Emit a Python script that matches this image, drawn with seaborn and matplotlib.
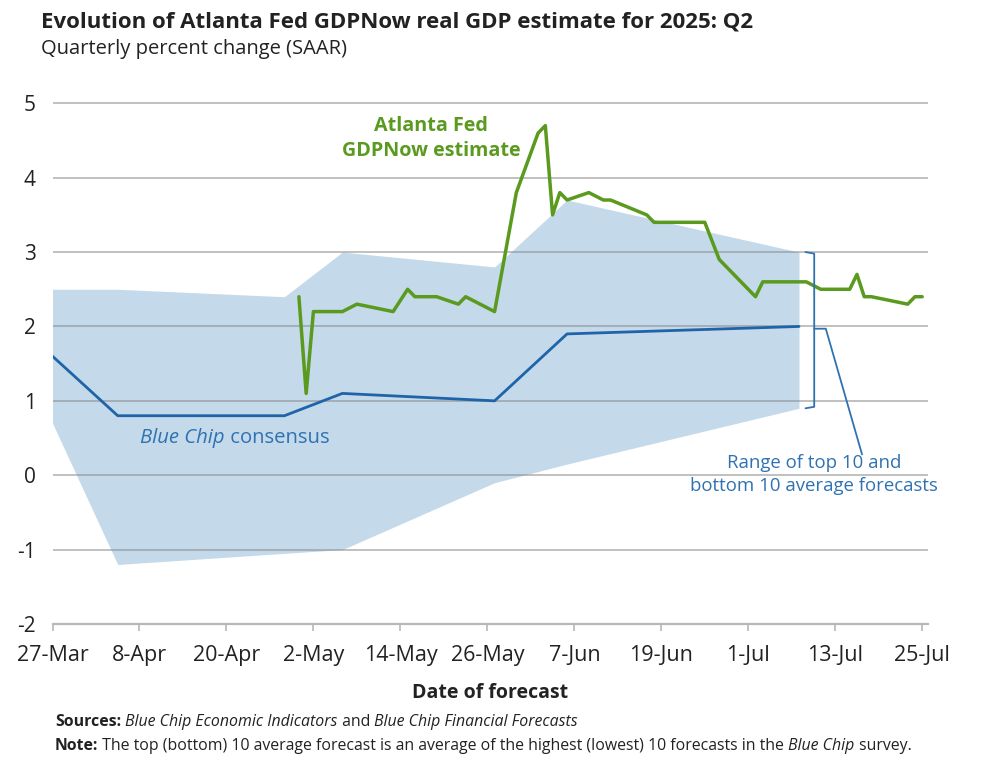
import numpy as np
import pandas as pd
import matplotlib
matplotlib.use("Agg")
import matplotlib.pyplot as plt
import matplotlib.dates as mdates
import seaborn as sns

# ── Data ──────────────────────────────────────────────────────────────────────
gdpnow_dates = [
    "2025-04-30", "2025-05-01", "2025-05-02", "2025-05-06", "2025-05-08",
    "2025-05-13", "2025-05-15", "2025-05-16", "2025-05-19", "2025-05-22",
    "2025-05-23", "2025-05-27", "2025-05-30", "2025-06-02", "2025-06-03",
    "2025-06-04", "2025-06-05", "2025-06-06", "2025-06-09", "2025-06-11",
    "2025-06-12", "2025-06-17", "2025-06-18", "2025-06-25", "2025-06-27",
    "2025-07-02", "2025-07-03", "2025-07-09", "2025-07-11", "2025-07-15",
    "2025-07-16", "2025-07-17", "2025-07-18", "2025-07-23", "2025-07-24",
    "2025-07-25",
]
gdpnow_values = [
    2.4, 1.1, 2.2, 2.2, 2.3,
    2.2, 2.5, 2.4, 2.4, 2.3,
    2.4, 2.2, 3.8, 4.6, 4.7,
    3.5, 3.8, 3.7, 3.8, 3.7,
    3.7, 3.5, 3.4, 3.4, 2.9,
    2.4, 2.6, 2.6, 2.5, 2.5,
    2.7, 2.4, 2.4, 2.3, 2.4,
    2.4,
]

bluechip_dates = ["2025-03-27", "2025-04-05", "2025-04-28", "2025-05-06",
                  "2025-05-27", "2025-06-06", "2025-07-08"]
bluechip_consensus = [1.6, 0.8, 0.8, 1.1, 1.0, 1.9, 2.0]
bluechip_top10 = [2.5, 2.5, 2.4, 3.0, 2.8, 3.7, 3.0]
bluechip_bottom10 = [0.7, -1.2, -1.05, -1.0, -0.1, 0.15, 0.9]

tick_dates = ["2025-03-27", "2025-04-08", "2025-04-20", "2025-05-02",
              "2025-05-14", "2025-05-26", "2025-06-07", "2025-06-19",
              "2025-07-01", "2025-07-13", "2025-07-25"]
tick_labels = ["27-Mar", "8-Apr", "20-Apr", "2-May", "14-May", "26-May",
               "7-Jun", "19-Jun", "1-Jul", "13-Jul", "25-Jul"]
y_ticks = [-2, -1, 0, 1, 2, 3, 4, 5]

df_now = pd.DataFrame({"date": pd.to_datetime(gdpnow_dates), "value": gdpnow_values})
df_bc = pd.DataFrame({
    "date": pd.to_datetime(bluechip_dates),
    "consensus": bluechip_consensus,
    "top10": bluechip_top10,
    "bottom10": bluechip_bottom10,
})

# ── Style ─────────────────────────────────────────────────────────────────────
sns.set_theme(style="white")
plt.rcParams["font.family"] = ["Open Sans", "DejaVu Sans"]
plt.rcParams["axes.unicode_minus"] = False

GREEN = "#5a9a1e"
BLUE = "#1f64a8"
BLUE_TXT = "#2f72b2"
BAND = "#c4d9e9"
TXT = "#222222"

W, H = 992, 778
fig = plt.figure(figsize=(W / 100, H / 100), dpi=100)
ax = fig.add_axes([52.5 / W, 1 - 624 / H, (928 - 52.5) / W, (624 - 99.6) / H])

# band + lines
ax.fill_between(df_bc["date"], df_bc["bottom10"], df_bc["top10"],
                color=BAND, linewidth=0, zorder=1)
sns.lineplot(data=df_bc, x="date", y="consensus", ax=ax, color=BLUE,
             linewidth=2.0, zorder=3)
sns.lineplot(data=df_now, x="date", y="value", ax=ax, color=GREEN,
             linewidth=2.5, zorder=4)

x0 = pd.Timestamp("2025-03-27")
ax.set_xlim(x0, x0 + pd.Timedelta(days=120.8))
ax.set_ylim(-2, 5.05)

ax.set_axisbelow("line")
ax.yaxis.grid(True, color="#8c8c8c", alpha=0.55, linewidth=1.4)
ax.xaxis.grid(False)
for s in ["top", "right", "left"]:
    ax.spines[s].set_visible(False)
ax.spines["bottom"].set_color("#b8b8b8")
ax.spines["bottom"].set_linewidth(1.6)

ax.set_yticks(y_ticks)
ax.set_yticklabels([str(v) for v in y_ticks])
ax.set_xticks(pd.to_datetime(tick_dates))
ax.set_xticklabels(tick_labels)
ax.tick_params(axis="y", length=0, pad=12, labelsize=15, labelcolor=TXT)
ax.tick_params(axis="x", length=5, width=1.2, color="#b8b8b8", pad=10,
               labelsize=15.5, labelcolor=TXT, bottom=True)
ax.set_xlabel("Date of forecast", fontsize=14, fontweight="bold", color=TXT,
              labelpad=12)
ax.set_ylabel("")

# ── Annotations ───────────────────────────────────────────────────────────────
def dnum(date_str, extra_days=0.0):
    return mdates.date2num(pd.Timestamp(date_str) + pd.Timedelta(days=extra_days))

ax.text(dnum("2025-05-18", 0.2), 4.7, "Atlanta Fed", color=GREEN, fontsize=14.2,
        fontweight="bold", ha="center", va="center")
ax.text(dnum("2025-05-18", 0.2), 4.36, "GDPNow estimate", color=GREEN, fontsize=14.2,
        fontweight="bold", ha="center", va="center")

renderer = fig.canvas.get_renderer()


def text_width(s, **kw):
    t = fig.text(0, 0, s + "|", **kw)
    t2 = fig.text(0, 0, "|", **kw)
    w = t.get_window_extent(renderer).width - t2.get_window_extent(renderer).width
    t.remove()
    t2.remove()
    return w


def rich(x_px, y_px, parts, size, color):
    # x_px, y_px in display coords (origin bottom-left)
    x = x_px
    for s, style, weight in parts:
        kw = dict(fontsize=size, style=style, fontweight=weight, color=color)
        fig.text(x / W, y_px / H, s, ha="left", va="center", **kw)
        x += text_width(s, **kw)


# Blue Chip consensus label
px, py = ax.transData.transform((dnum("2025-04-08", 0.1), 0.5))
rich(px, py, [("Blue Chip", "italic", "normal"), (" consensus", "normal", "normal")],
     14.6, BLUE_TXT)

# bracket for the range
xb = dnum("2025-07-10", 0.1)
xb_in = dnum("2025-07-08", 0.9)
ax.plot([xb_in, xb, xb, xb_in], [3.0, 2.98, 0.92, 0.9], color=BLUE_TXT,
        linewidth=1.3, zorder=5, clip_on=False)
ax.plot([xb, dnum("2025-07-11", 0.7), dnum("2025-07-16", 0.7)], [1.97, 1.97, 0.28],
        color=BLUE_TXT, linewidth=1.3, zorder=5, clip_on=False)
ax.text(dnum("2025-07-10", 0.1), 0.17, "Range of top 10 and", color=BLUE_TXT,
        fontsize=13.4, ha="center", va="center")
ax.text(dnum("2025-07-10", 0.1), -0.15, "bottom 10 average forecasts", color=BLUE_TXT,
        fontsize=13.4, ha="center", va="center")

# ── Titles and footnotes ──────────────────────────────────────────────────────
fig.text(41 / W, 1 - 22 / H, "Evolution of Atlanta Fed GDPNow real GDP estimate for 2025: Q2",
         fontsize=16, fontweight="bold", color=TXT, ha="left", va="center")
fig.text(41 / W, 1 - 49 / H, "Quarterly percent change (SAAR)",
         fontsize=14.5, color=TXT, ha="left", va="center")

rich(55, H - 722, [("Sources:", "normal", "bold"), (" ", "normal", "normal"),
                   ("Blue Chip Economic Indicators", "italic", "normal"),
                   (" and ", "normal", "normal"),
                   ("Blue Chip Financial Forecasts", "italic", "normal")],
     11.4, TXT)
rich(55, H - 746, [("Note:", "normal", "bold"),
                   (" The top (bottom) 10 average forecast is an average of the highest (lowest) 10 forecasts in the ",
                    "normal", "normal"),
                   ("Blue Chip", "italic", "normal"), (" survey.", "normal", "normal")],
     11.4, TXT)

fig.savefig("out.png", dpi=100)
